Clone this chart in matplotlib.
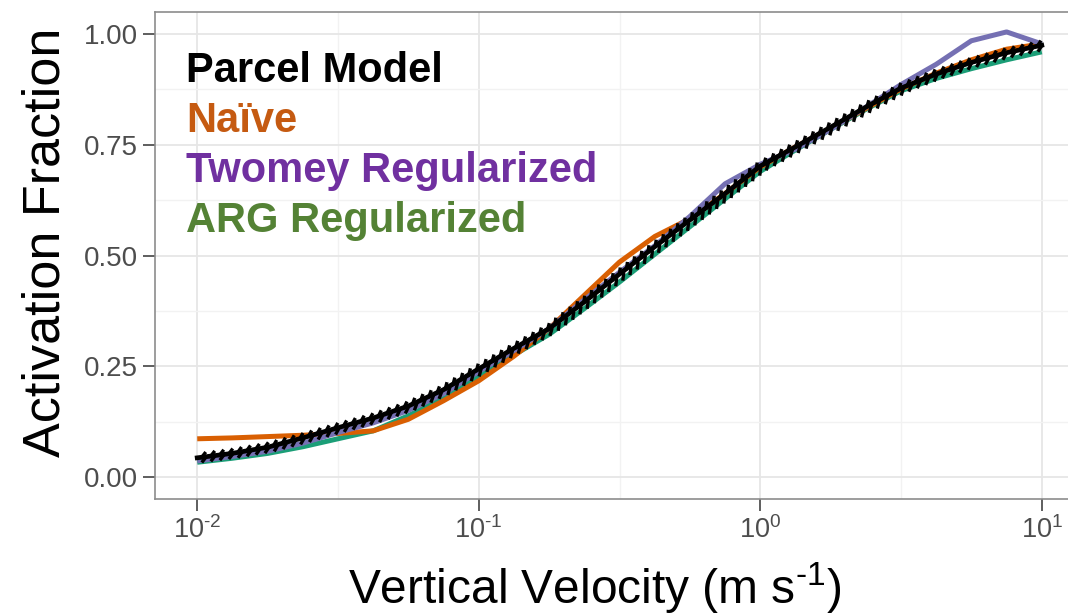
import numpy as np
import matplotlib
matplotlib.use("Agg")
import matplotlib.pyplot as plt
from matplotlib import patheffects as pe
from matplotlib.ticker import FixedLocator, NullFormatter

plt.rcParams['font.family'] = ['Liberation Sans', 'DejaVu Sans']
plt.rcParams['mathtext.fontset'] = 'custom'
plt.rcParams['mathtext.rm'] = 'Liberation Sans'
plt.rcParams['mathtext.it'] = 'Liberation Sans'
plt.rcParams['mathtext.bf'] = 'Liberation Sans:bold'

# ---- data ----
velocity = [0.01, 0.0133, 0.0178, 0.0237, 0.0316, 0.0422, 0.0562, 0.075,
            0.1, 0.133, 0.178, 0.237, 0.316, 0.422, 0.562, 0.75,
            1.0, 1.33, 1.78, 2.37, 3.16, 4.22, 5.62, 7.5, 10.0]

parcel = [0.043, 0.053, 0.067, 0.088, 0.111, 0.133, 0.160, 0.197,
          0.244, 0.290, 0.335, 0.395, 0.458, 0.520, 0.580, 0.640,
          0.702, 0.745, 0.790, 0.835, 0.878, 0.910, 0.936, 0.958, 0.975]

naive = [0.086, 0.088, 0.091, 0.094, 0.098, 0.104, 0.130, 0.172,
         0.217, 0.272, 0.335, 0.410, 0.485, 0.543, 0.583, 0.640,
         0.700, 0.745, 0.787, 0.832, 0.876, 0.912, 0.942, 0.966, 0.978]

twomey = [0.036, 0.046, 0.058, 0.076, 0.100, 0.122, 0.150, 0.188,
          0.238, 0.285, 0.335, 0.400, 0.462, 0.522, 0.588, 0.662,
          0.706, 0.740, 0.785, 0.835, 0.886, 0.932, 0.985, 1.005, 0.978]

arg = [0.033, 0.042, 0.053, 0.068, 0.086, 0.104, 0.138, 0.178,
       0.228, 0.275, 0.322, 0.380, 0.440, 0.503, 0.565, 0.628,
       0.690, 0.738, 0.785, 0.830, 0.872, 0.900, 0.922, 0.942, 0.960]

series_names = ["Parcel Model", "Naïve", "Twomey Regularized", "ARG Regularized"]
label_colors = ["#000000", "#C55A11", "#7030A0", "#548235"]

x_ticks = [0.01, 0.1, 1.0, 10.0]
x_ticklabels = [r"$10^{\text{-2}}$", r"$10^{\text{-1}}$", r"$10^{0}$", r"$10^{1}$"]
x_minor = [10**-1.5, 10**-0.5, 10**0.5]
y_ticks = [0.0, 0.25, 0.5, 0.75, 1.0]
y_ticklabels = ["0.00", "0.25", "0.50", "0.75", "1.00"]
y_minor = [0.125, 0.375, 0.625, 0.875]

# ---- figure ----
W, H = 1068, 614
fig = plt.figure(figsize=(W / 100, H / 100), dpi=100)
left_px, right_px, top_px, bottom_px = 155, 1084, 12, 499
ax = fig.add_axes([left_px / W, 1 - bottom_px / H,
                   (right_px - left_px) / W, (bottom_px - top_px) / H])

ax.set_xscale('log')
ax.set_xlim(10**-2.15, 10**1.15)
ax.set_ylim(-0.05, 1.05)

# grid
ax.xaxis.set_major_locator(FixedLocator(x_ticks))
ax.xaxis.set_minor_locator(FixedLocator(x_minor))
ax.xaxis.set_minor_formatter(NullFormatter())
ax.set_xticklabels(x_ticklabels)
ax.yaxis.set_major_locator(FixedLocator(y_ticks))
ax.yaxis.set_minor_locator(FixedLocator(y_minor))
ax.set_yticklabels(y_ticklabels)
ax.grid(True, which='major', color='#E6E6E6', lw=1.3)
ax.grid(True, which='minor', color='#F2F2F2', lw=1.0)
ax.set_axisbelow(True)
ax.tick_params(which='minor', length=0)
ax.tick_params(which='major', length=8.6, width=1.1, color='#333333',
               labelcolor='#4D4D4D', direction='out')
ax.tick_params(axis='y', labelsize=20, pad=3.5)
ax.tick_params(axis='x', labelsize=19.5, pad=4)
for s in ax.spines.values():
    s.set_color('#8C8C8C')
    s.set_linewidth(1.2)

# lines
ax.plot(velocity, arg, color='#1B9E77', lw=3.6, solid_capstyle='butt', zorder=3)
ax.plot(velocity, naive, color='#D95F02', lw=3.6, solid_capstyle='butt', zorder=4)
ax.plot(velocity, twomey, color='#7570B3', lw=3.6, solid_capstyle='butt', zorder=5)
ax.plot(velocity, parcel, color='#000000', lw=3.4, zorder=6,
        path_effects=[pe.Normal(),
                      pe.TickedStroke(spacing=6.5, angle=45, length=0.55, linewidth=2.4),
                      pe.TickedStroke(offset=(3.0, 0.0), spacing=6.5, angle=-135,
                                      length=0.55, linewidth=2.4)])

# legend text (coloured labels)
base_px = [82, 132, 182, 232]
for name, col, by in zip(series_names, label_colors, base_px):
    fig.text(186 / W, 1 - by / H, name, color=col, fontsize=30,
             fontweight='bold', ha='left', va='baseline')

# axis titles
fig.text(595 / W, 1 - 604 / H, r"Vertical Velocity (m s$^{\text{-1}}$)", fontsize=34.5,
         ha='center', va='baseline', color='black')
fig.text(22 / W, 1 - 242 / H, "Activation Fraction", fontsize=37.5, rotation=90,
         ha='left', va='center', color='black')

fig.savefig('out.png', dpi=100)
